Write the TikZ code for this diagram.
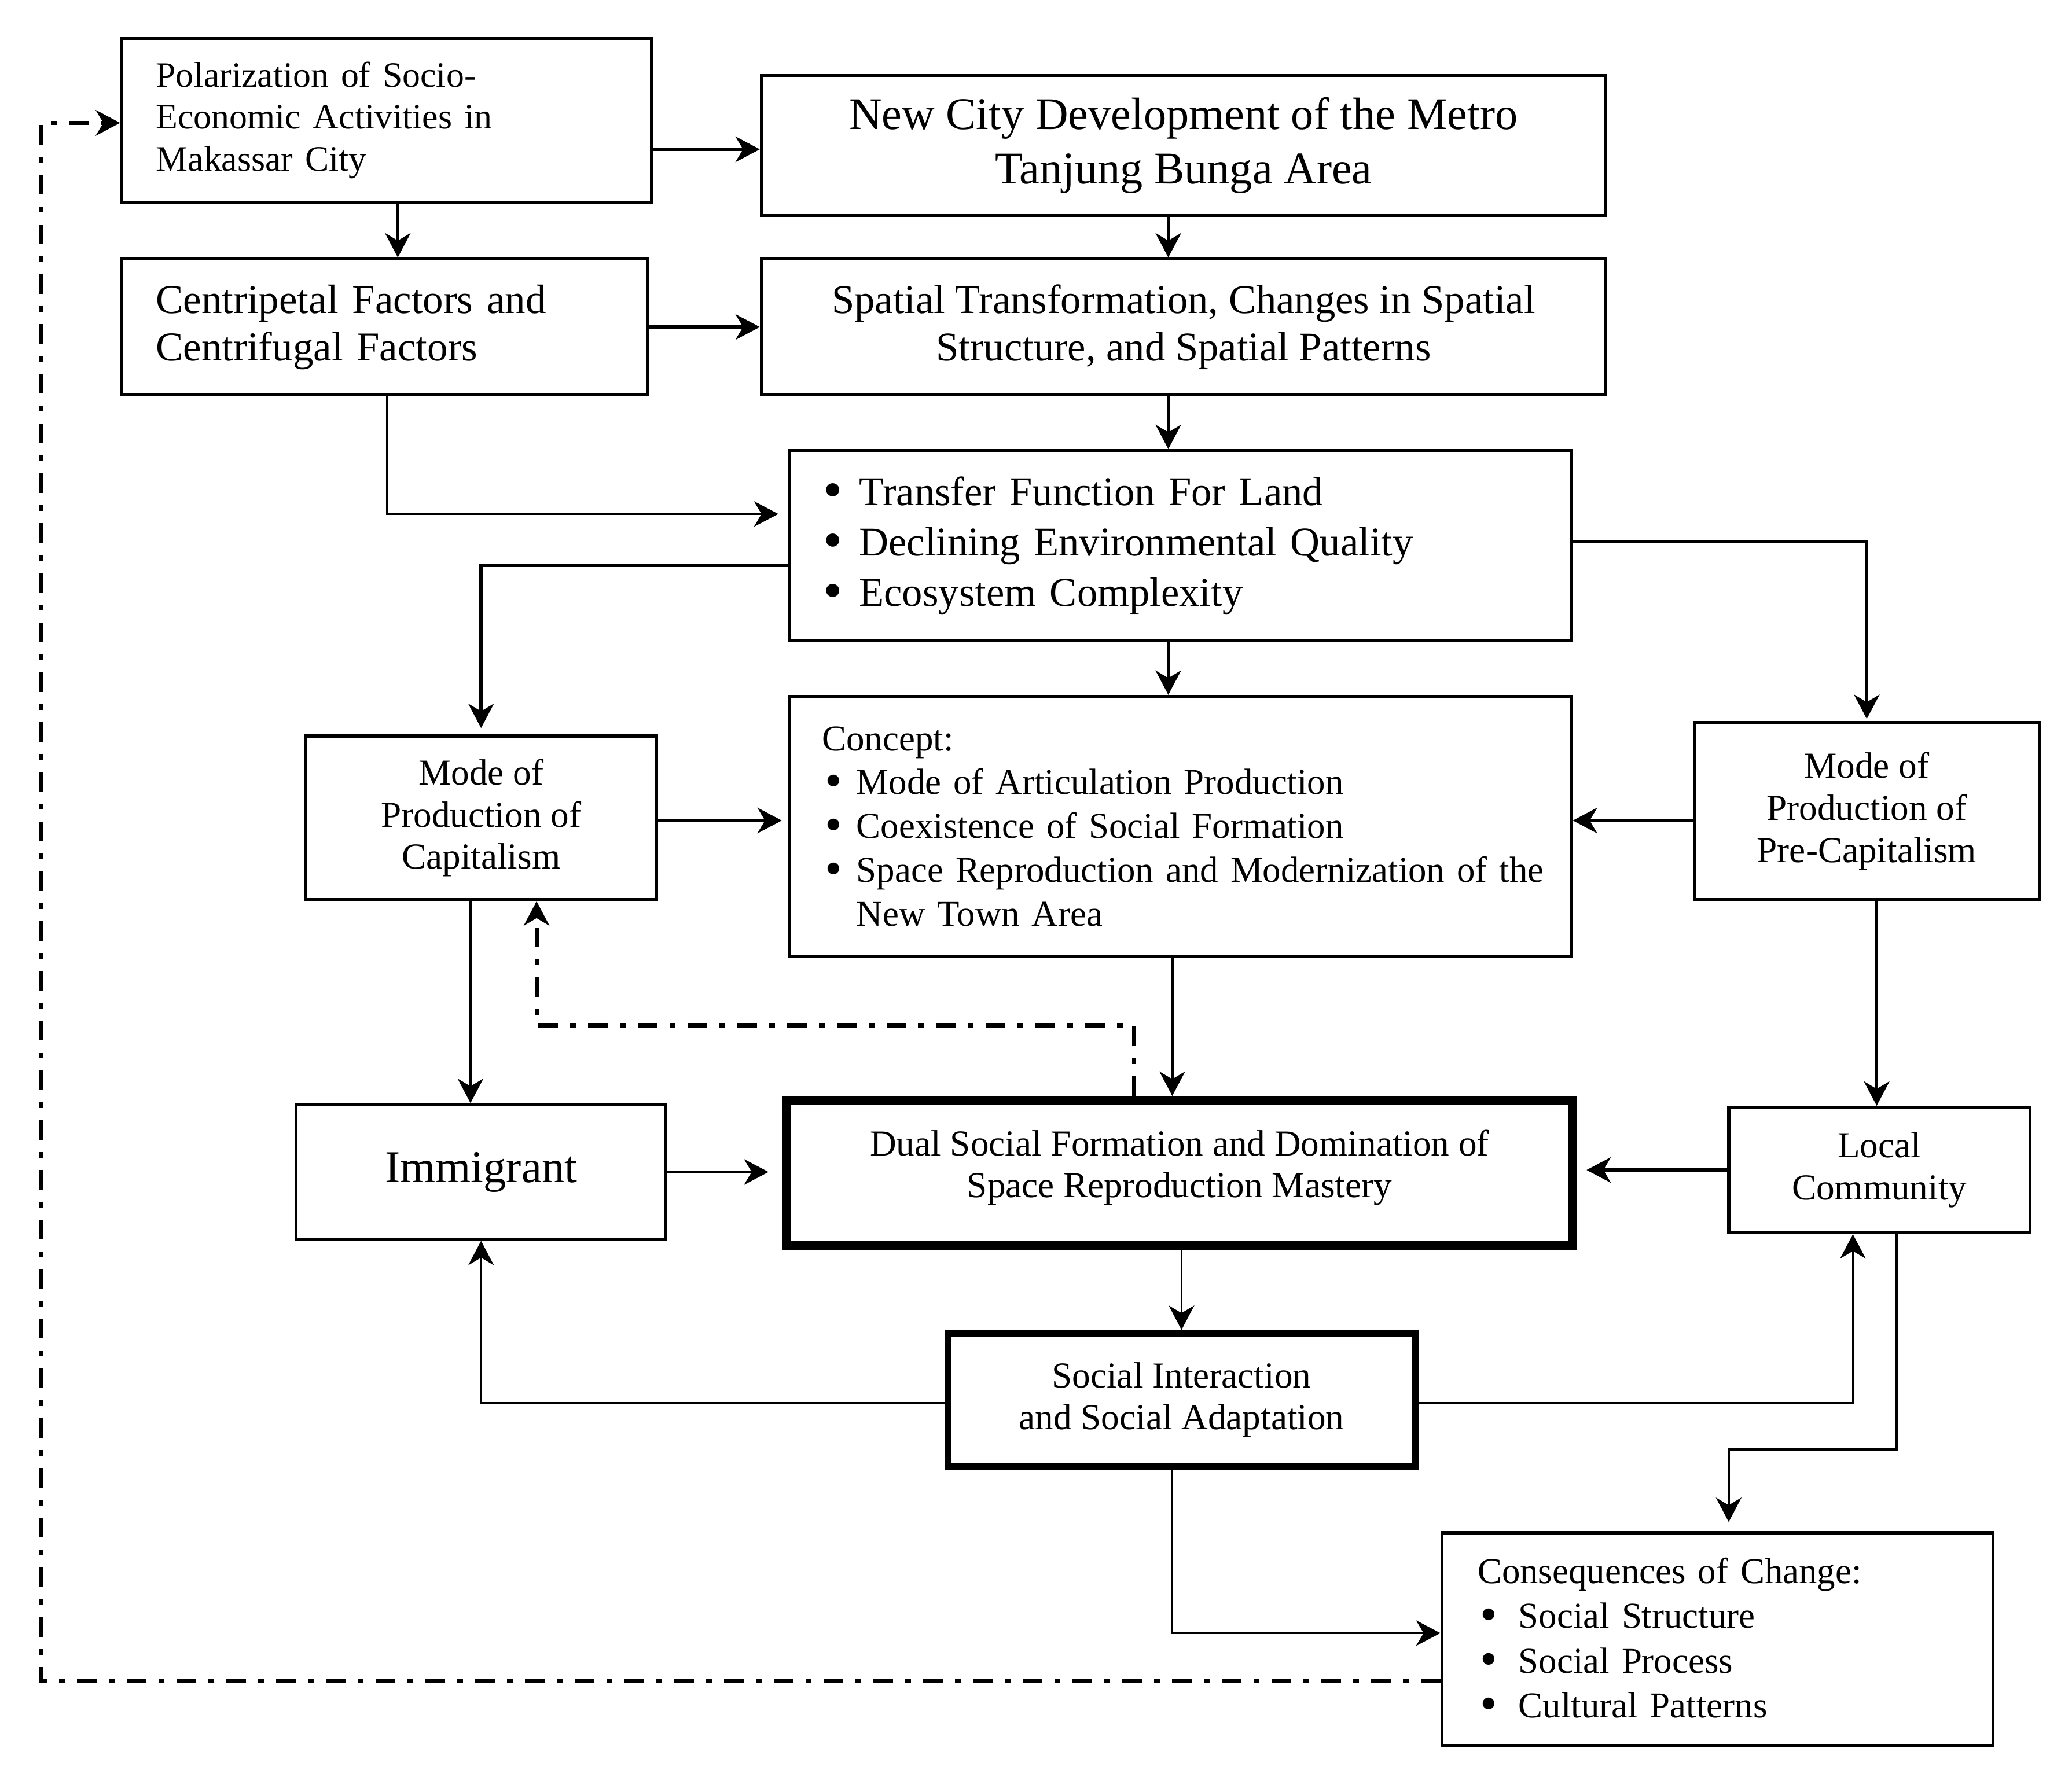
\documentclass[tikz,border=0pt]{standalone}
\usepackage{fontspec}
\usepackage{graphicx}
\setmainfont{Liberation Serif}
\usetikzlibrary{arrows.meta}
\newcommand{\mybul}{\raisebox{-0.07em}{\scalebox{1.35}{\textbullet}}}
\begin{document}
\begin{tikzpicture}[x=0.022835cm,y=-0.022835cm,
  box/.style={draw, line width=1.5pt, inner sep=0pt, align=center},
  lbox/.style={draw, line width=1.5pt, inner ysep=0pt, align=left},
  arrtip/.style={-{Stealth[length=0.42cm,width=0.44cm,inset=0.13cm]}},
  arr/.style={line width=1.6pt, arrtip},
  thinarr/.style={line width=1.1pt, arrtip},
  dd/.style={line width=2pt, dash pattern=on 0.34cm off 0.21cm on 0.1cm off 0.21cm},
  fS/.style={font=\fontsize{18}{20.7}\selectfont},
  fM/.style={font=\fontsize{20.1}{23.4}\selectfont},
  fL/.style={font=\fontsize{22.3}{26.6}\selectfont}]
\fill[white] (0,0) rectangle (1567.8,1339.2);
\useasboundingbox (0,0) rectangle (1567.8,1339.2);

% boxes
\node[lbox, font=\fontsize{17.6}{20.7}\selectfont, minimum width=9.157cm, minimum height=2.832cm,
  inner xsep=0.594cm, text width=7.969cm] (pol) at (292.5,91)
  {\mbox{Polarization of Socio-}\\\mbox{Economic Activities in}\\\mbox{Makassar City}};
\node[box, fL, minimum width=14.592cm, minimum height=2.421cm] (new) at (895.5,110)
  {New City Development of the Metro\\Tanjung Bunga Area};
\node[lbox, font=\fontsize{20.2}{23.4}\selectfont, minimum width=9.088cm, minimum height=2.352cm,
  inner xsep=0.594cm, text width=7.901cm] (cen) at (291,247.5)
  {\mbox{Centripetal Factors and}\\\mbox{Centrifugal Factors}};
\node[box, fM, minimum width=14.592cm, minimum height=2.352cm] (spa) at (895.5,247.5)
  {Spatial Transformation, Changes in Spatial\\Structure, and Spatial Patterns};
\node[lbox, font=\fontsize{20.1}{24.7}\selectfont, minimum width=13.518cm, minimum height=3.288cm,
  inner xsep=0.594cm, text width=12.331cm] (tra) at (893,413)
  {\mbox{\makebox[0.617cm][l]{\mybul}Transfer Function For Land}\\
   \mbox{\makebox[0.617cm][l]{\mybul}Declining Environmental Quality}\\
   \mbox{\makebox[0.617cm][l]{\mybul}Ecosystem Complexity}};
\node[box, fS, minimum width=6.074cm, minimum height=2.832cm] (mcap) at (364,619)
  {Mode of\\Production of\\Capitalism};
\node[lbox, font=\fontsize{17.9}{21.6}\selectfont, minimum width=13.518cm, minimum height=4.498cm,
  inner xsep=0.571cm, text width=12.377cm] (con) at (893,625.5)
  {Concept:\\
   \mbox{\hspace*{0.046cm}\makebox[0.548cm][l]{\mybul}Mode of Articulation Production}\\
   \mbox{\hspace*{0.046cm}\makebox[0.548cm][l]{\mybul}Coexistence of Social Formation}\\
   \mbox{\hspace*{0.046cm}\makebox[0.548cm][l]{\mybul}Space Reproduction and Modernization of the}\\
   \mbox{\hspace*{0.594cm}New Town Area}};
\node[box, fS, minimum width=5.960cm, minimum height=3.060cm] (mpre) at (1412.5,614)
  {Mode of\\Production of\\Pre-Capitalism};
\node[box, font=\fontsize{22.4}{26}\selectfont, minimum width=6.394cm, minimum height=2.329cm] (imm) at (364,887)
  {Immigrant};
\node[box, fS, line width=4.6pt, minimum width=13.587cm, minimum height=2.512cm, text depth=0.33cm] (dual) at (892.5,888)
  {Dual Social Formation and Domination of\\Space Reproduction Mastery};
\node[box, fS, minimum width=5.206cm, minimum height=2.169cm] (loc) at (1422,885.5)
  {Local\\Community};
\node[box, fS, line width=3.3pt, minimum width=8.084cm, minimum height=2.306cm] (soc) at (894,1059.5)
  {Social Interaction\\and Social Adaptation};
\node[lbox, font=\fontsize{17.9}{22}\selectfont, minimum width=9.522cm, minimum height=3.676cm,
  inner xsep=0.617cm, text width=8.289cm] (cons) at (1299.5,1240.5)
  {Consequences of Change:\\
   \mbox{\hspace*{0.046cm}\makebox[0.662cm][l]{\mybul}Social Structure}\\
   \mbox{\hspace*{0.046cm}\makebox[0.662cm][l]{\mybul}Social Process}\\
   \mbox{\hspace*{0.046cm}\makebox[0.662cm][l]{\mybul}Cultural Patterns}};

% guide coordinates
\coordinate (c31) at (31,0);
\coordinate (c293) at (293,0);
\coordinate (c301) at (301,0);
\coordinate (c356) at (356,0);
\coordinate (c406) at (406,0);
\coordinate (c858) at (858,0);
\coordinate (c884) at (884,0);
\coordinate (c887) at (887,0);
\coordinate (c1308) at (1308,0);
\coordinate (c1402) at (1402,0);
\coordinate (c1420) at (1420,0);
\coordinate (c1435) at (1435,0);
\coordinate (r93) at (0,93);
\coordinate (r113) at (0,113);
\coordinate (r389) at (0,389);
\coordinate (r410) at (0,410);
\coordinate (r428) at (0,428);
\coordinate (r621) at (0,621);
\coordinate (r776) at (0,776);
\coordinate (r1062) at (0,1062);
\coordinate (r1097) at (0,1097);
\coordinate (r1236) at (0,1236);
\coordinate (r1272) at (0,1272);

% connectors
\draw[arr] (pol.east |- r113) -- (new.west |- r113);
\draw[arr] (pol.south -| c301) -- (cen.north -| c301);
\draw[arr] (new.south -| c884) -- (spa.north -| c884);
\draw[arr] (cen.east) -- (cen.east -| spa.west);
\draw[arr] (spa.south -| c884) -- (tra.north -| c884);
\draw[thinarr, shorten >=0.16cm] (cen.south -| c293) |- (tra.west |- r389);
\draw[arr, shorten >=0.11cm] (tra.west |- r428) -| (mcap.north);
\draw[arr, shorten >=0.04cm] (tra.east |- r410) -| (mpre.north);
\draw[arr] (tra.south -| c884) -- (con.north -| c884);
\draw[arr, shorten >=0.1cm] (mcap.east |- r621) -- (con.west |- r621);
\draw[arr] (mpre.west |- r621) -- (con.east |- r621);
\draw[arr] (con.south -| c887) -- (dual.north -| c887);
\draw[arr] (mcap.south -| c356) -- (imm.north -| c356);
\draw[dd, arrtip] (dual.north -| c858) -- (c858 |- r776) -- (c406 |- r776) -- (mcap.south -| c406);
\draw[arr] (mpre.south -| c1420) -- (loc.north -| c1420);
\draw[arr, shorten >=0.23cm] (imm.east) -- (imm.east -| dual.west);
\draw[arr, shorten >=0.16cm] (loc.west) -- (loc.west -| dual.east);
\draw[thinarr] (dual.south -| soc.north) -- (soc.north);
\draw[thinarr] (soc.west |- r1062) -| (imm.south);
\draw[thinarr] (soc.east |- r1062) -| (loc.south -| c1402);
\draw[thinarr, shorten >=0.16cm] (loc.south -| c1435) -- (c1435 |- r1097) -- (c1308 |- r1097) -- (cons.north -| c1308);
\draw[thinarr] (soc.south -| c887) |- (cons.west |- r1236);
\draw[dd, arrtip] (cons.west |- r1272) -- (c31 |- r1272) -- (c31 |- r93) -- (pol.west |- r93);
\end{tikzpicture}
\end{document}
